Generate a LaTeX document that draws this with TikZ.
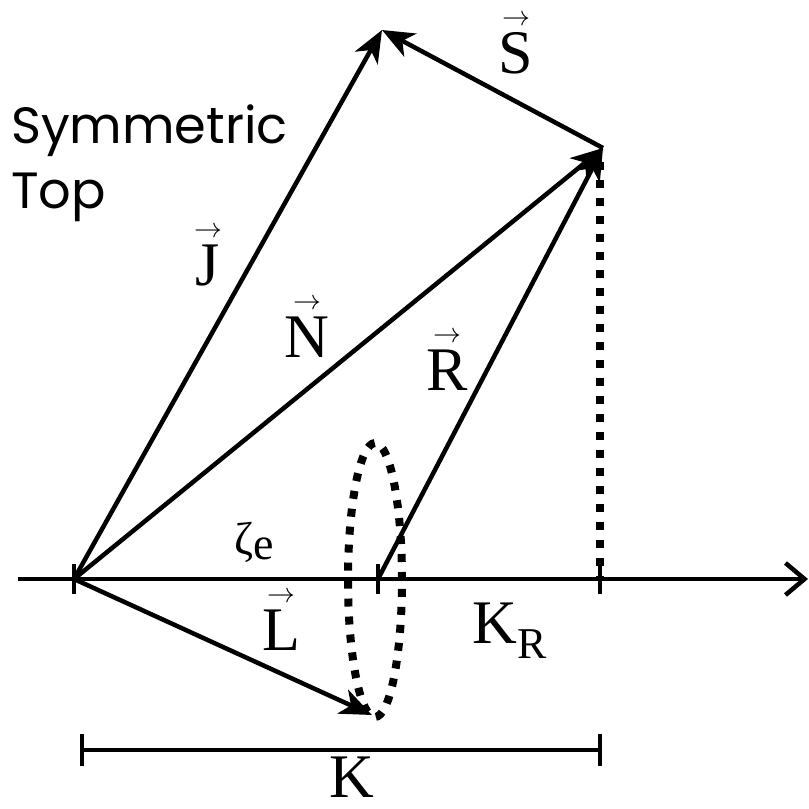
\documentclass[tikz,border=0pt]{standalone}
\usepackage{graphicx}
\usepackage{fontspec}
\setmainfont{Liberation Serif}
\newfontfamily\geofont{Poppins}
\usetikzlibrary{arrows.meta}
\newcommand\vlet[1]{\ooalign{#1\cr\hidewidth\raisebox{0.76em}{\resizebox{0.45em}{!}{$\rightarrow$}}\hidewidth\cr}}
\begin{document}
\begin{tikzpicture}[x=1pt,y=-1pt,
  vec/.style={line width=4.5pt,-{Stealth[length=32pt,width=26pt,inset=9pt]}},
  axisline/.style={line width=4.5pt},
  dotline/.style={line width=8pt,dash pattern=on 8pt off 10pt},
  lab/.style={anchor=base,inner sep=0pt,font=\fontsize{62}{62}\selectfont},
  title/.style={anchor=base west,inner sep=0pt,font=\geofont\fontsize{51}{51}\selectfont}]
\useasboundingbox (0,0) rectangle (809,809);
% points
\coordinate (O) at (74,579);
\coordinate (Jt) at (382,30);
\coordinate (Nt) at (603,148);
\coordinate (Rs) at (378,579);
\coordinate (Lt) at (372,715);
\coordinate (C) at (600,579);
\coordinate (Ds) at (600,162);
\coordinate (A0) at (18,579);
\coordinate (A1) at (808,579);
\coordinate (E) at (375,580);
\coordinate (B0) at (82,750);
\coordinate (B1) at (600,750);
% axis and ticks
\draw[axisline,-{Straight Barb[length=19pt,width=32pt]}] (A0) -- (A1);
\foreach \p in {O,Rs,C} \draw[axisline] ([yshift=-15pt]\p) -- ([yshift=15pt]\p);
% dotted
\draw[dotline] (E) ellipse [x radius=27pt, y radius=137pt];
\draw[dotline] (Ds) -- (C);
% vectors
\draw[vec] (O) -- (Jt);
\draw[vec] (Nt) -- (Jt);
\draw[vec] (O) -- (Nt);
\draw[vec] (Rs) -- (Nt);
\draw[vec] (O) -- (Lt);
% K bar
\draw[axisline] (B0) -- (B1);
\draw[axisline] ([yshift=-16pt]B0) -- ([yshift=16pt]B0);
\draw[axisline] ([yshift=-16pt]B1) -- ([yshift=16pt]B1);
% labels
\node[title] (t1) at (11,143) {Symmetric};
\node[title] (t2) at (11,208) {Top};
\node[lab] (lS) at (516,73) {\vlet{S}};
\node[lab] (lJ) at (208,285) {\vlet{J}};
\node[lab] (lN) at (307,357) {\vlet{N}};
\node[lab] (lR) at (447,390) {\vlet{R}};
\node[lab] (lL) at (281,650) {\vlet{L}};
\node[lab,font=\fontsize{46}{46}\selectfont] (lz) at (254,554) {ζ\raisebox{-0.12em}{e}};
\node[lab] (lKR) at (510,643) {K\raisebox{-0.25em}{\fontsize{44}{44}\selectfont R}};
\node[lab] (lK) at (352,797) {K};
\end{tikzpicture}
\end{document}
